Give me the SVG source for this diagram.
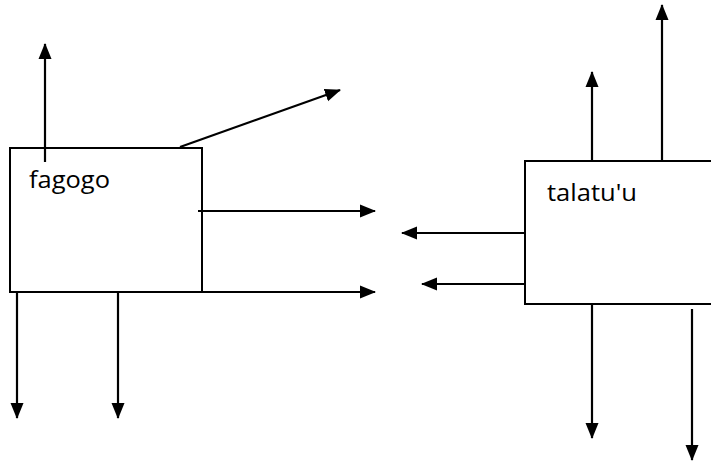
<svg xmlns="http://www.w3.org/2000/svg" width="711" height="461" viewBox="0 0 711 461">
<style>
.box{fill:#fff;stroke:#000;stroke-width:2}
.c{stroke:#000;stroke-width:2.2;fill:none;marker-end:url(#ah)}
.t{font-family:"Open Sans","Noto Sans",sans-serif;font-size:24px;fill:#000}
</style>
<defs>
<marker id="ah" markerUnits="userSpaceOnUse" markerWidth="16" markerHeight="14" refX="15" refY="7" orient="auto" viewBox="0 0 16 14">
<path d="M0,0.5 L16,7 L0,13.5 Z" fill="#000"/>
</marker>
</defs>
<rect width="711" height="461" fill="#fff"/>
<g id="fagogo">
<rect class="box" x="10" y="148" width="192" height="144"/>
<text class="t" x="29" y="188" textLength="81" lengthAdjust="spacingAndGlyphs">fagogo</text>
</g>
<g id="talatuu">
<rect class="box" x="525" y="161" width="200" height="143"/>
<text class="t" x="547" y="201" textLength="90" lengthAdjust="spacingAndGlyphs">talatu'u</text>
</g>
<g id="connectors">
<line class="c" x1="45" y1="162" x2="45" y2="44"/>
<line class="c" x1="180" y1="147" x2="340" y2="90"/>
<line class="c" x1="198" y1="211" x2="375" y2="211"/>
<line class="c" x1="202" y1="292" x2="375" y2="292"/>
<line class="c" x1="17" y1="292" x2="17" y2="418"/>
<line class="c" x1="118" y1="292" x2="118" y2="418"/>
<line class="c" x1="592" y1="161" x2="592" y2="72"/>
<line class="c" x1="662" y1="161" x2="662" y2="5"/>
<line class="c" x1="525" y1="233" x2="402" y2="233"/>
<line class="c" x1="525" y1="284" x2="422" y2="284"/>
<line class="c" x1="592" y1="304" x2="592" y2="438"/>
<line class="c" x1="692" y1="309" x2="692" y2="460"/>
</g>
</svg>
